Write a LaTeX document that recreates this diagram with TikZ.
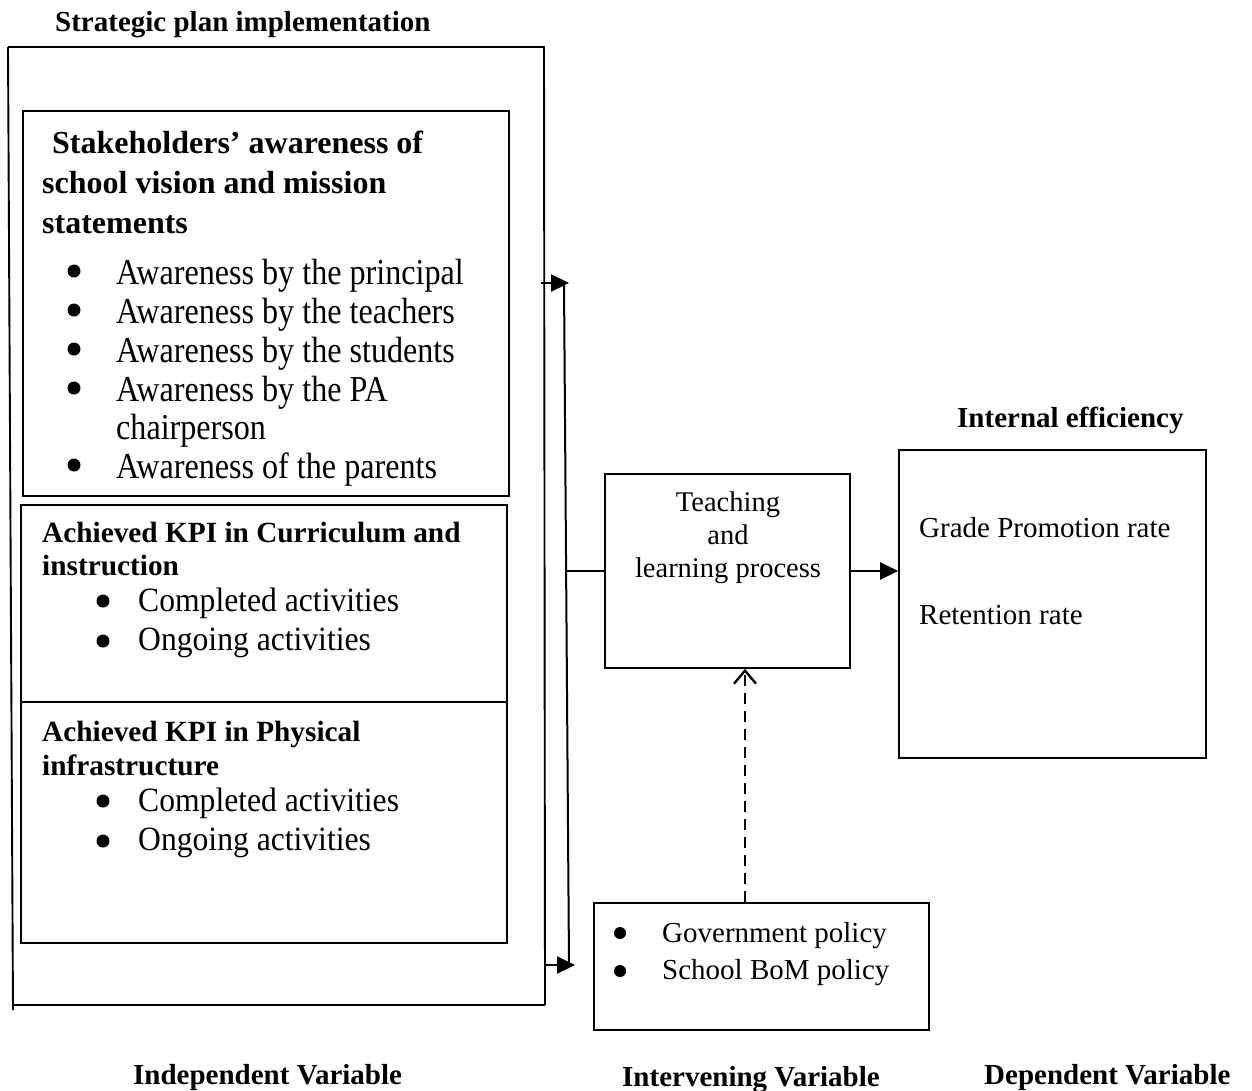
\documentclass[tikz,border=0pt]{standalone}
\usepackage{fontspec}
\setmainfont{Liberation Serif}
\newfontfamily\condfont{Liberation Serif}[FakeStretch=0.88]
\newfontfamily\condfontb{Liberation Serif}[FakeStretch=0.93]
\usetikzlibrary{arrows.meta}
\tikzset{
  lab/.style={inner sep=0, font=\fontsize{29}{29}\selectfont\bfseries, anchor=base west},
  hd/.style={inner sep=0, font=\fontsize{32}{32}\selectfont\bfseries, anchor=base west},
  hdb/.style={inner sep=0, font=\fontsize{29.3}{29.3}\selectfont\bfseries, anchor=base west},
  itm/.style={inner sep=0, font={\condfont\fontsize{36.5}{36.5}\selectfont}, anchor=base west},
  itmb/.style={inner sep=0, font={\condfontb\fontsize{34}{34}\selectfont}, anchor=base west},
  txt/.style={inner sep=0, font=\fontsize{29}{29}\selectfont, anchor=base west},
  ctr/.style={inner sep=0, font=\fontsize{28.5}{28.5}\selectfont, anchor=base},
  box/.style={draw, line width=1.6pt, inner sep=0},
  frm/.style={line width=1.9pt},
  arr/.style={line width=2.2pt, -{Triangle[length=18pt,width=17pt]}},
  plain/.style={line width=2pt},
  darr/.style={line width=2pt, dash pattern=on 11pt off 7pt, -{Straight Barb[length=13pt,width=22pt,line width=2.4pt]}},
}
\begin{document}
\begin{tikzpicture}[x=1pt,y=-1pt]
\useasboundingbox[fill=white] (0,0) rectangle (1252,1090);

% outer frame
\draw[frm] (8,47) -- (544,47) -- (545,1005);
\draw[frm] (8,47) -- (13,1010);
\draw[frm] (13,1005) -- (545,1005);

% boxes
\node[box, minimum width=486pt, minimum height=385pt] (b1) at (266,303.5) {};
\node[box, minimum width=486pt, minimum height=197pt] (b2) at (264,603.5) {};
\node[box, minimum width=486pt, minimum height=241pt] (b3) at (264,822.5) {};
\node[box, minimum width=245pt, minimum height=194pt] (tl) at (727.5,571) {};
\node[box, minimum width=307pt, minimum height=308pt] (ie) at (1052.5,604) {};
\node[box, minimum width=335pt, minimum height=127pt] (pol) at (761.5,966.5) {};

% labels
\node[lab] (st) at (55,31) {Strategic plan implementation};
\node[lab] (iel) at (957,427) {Internal efficiency};
\node[lab] (ivl) at (133,1084) {Independent Variable};
\node[lab] (inl) at (622,1086) {Intervening Variable};
\node[lab] (dvl) at (984,1084) {Dependent Variable};

% box 1
\node[hd] (h11) at (52,153) {Stakeholders’ awareness of};
\node[hd] (h12) at (42,193) {school vision and mission};
\node[hd] (h13) at (42,233) {statements};
\node[itm] (i11) at (116,284) {Awareness by the principal};
\node[itm] (i12) at (116,323) {Awareness by the teachers};
\node[itm] (i13) at (116,362) {Awareness by the students};
\node[itm] (i14) at (116,401) {Awareness by the PA};
\node[itm] (i15) at (116,439) {chairperson};
\node[itm] (i16) at (116,478) {Awareness of the parents};
\foreach \yy in {271,310,349,388,465} \fill (74,\yy) circle[radius=6.5pt];

% box 2
\node[hdb] (h21) at (42,542) {Achieved KPI in Curriculum and};
\node[hdb] (h22) at (42,575) {instruction};
\node[itmb] (i21) at (138,611) {Completed activities};
\node[itmb] (i22) at (138,650) {Ongoing activities};
\foreach \yy in {601,641} \fill (103,\yy) circle[radius=6.5pt];

% box 3
\node[hdb] (h31) at (42,741) {Achieved KPI in Physical};
\node[hdb] (h32) at (42,775) {infrastructure};
\node[itmb] (i31) at (138,811) {Completed activities};
\node[itmb] (i32) at (138,850) {Ongoing activities};
\foreach \yy in {801,841} \fill (103,\yy) circle[radius=6.5pt];

% teaching box
\node[ctr] (t1) at (728,511) {Teaching};
\node[ctr] (t2) at (728,544) {and};
\node[ctr] (t3) at (728,577) {learning process};

% internal efficiency
\node[txt] (g1) at (919,537) {Grade Promotion rate};
\node[txt] (g2) at (919,624) {Retention rate};

% policy
\node[txt] (p1) at (662,942) {Government policy};
\node[txt] (p2) at (662,979) {School BoM policy};
\foreach \yy in {933,971} \fill (620,\yy) circle[radius=6pt];

% connectors
\coordinate (aS) at (541,283);
\coordinate (aE) at (569,283);
\coordinate (busT) at (564,283);
\coordinate (busB) at (569,965);
\coordinate (bS) at (545,965);
\coordinate (bE) at (575,965);
\coordinate (busC) at (566,571);
\coordinate (dx) at (745,0);
\draw[arr] (aS) -- (aE);
\draw[plain] (busT) -- (busB);
\draw[arr] (bS) -- (bE);
\draw[plain] (busC) -- (tl.west);
\draw[arr] (tl.east) -- (tl.east -| ie.west);
\draw[darr] (pol.north -| dx) -- (tl.south -| dx);
\end{tikzpicture}
\end{document}
